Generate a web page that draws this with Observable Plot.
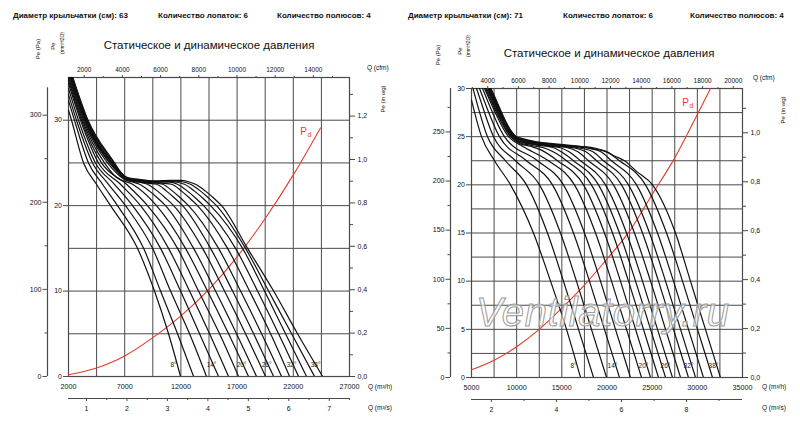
<!DOCTYPE html>
<html><head><meta charset="utf-8">
<script src="https://cdn.jsdelivr.net/npm/d3@7"></script>
<script src="https://cdn.jsdelivr.net/npm/@observablehq/plot@0.6"></script>
<style>
body{margin:0;background:#fff;}
#wrap{position:relative;width:800px;height:432px;overflow:hidden;font-family:"Liberation Sans",Arial,sans-serif;color:#111;background:#fff;}
.t{position:absolute;white-space:nowrap;line-height:1;}
</style></head><body><div id="wrap"></div>
<script>
// unit conversions
const CFM = 1.69901;   // m3/h per cfm
const PA = 9.80665;    // Pa per mmH2O
const INWG = 25.4;     // mmH2O per in wg

// blade angles (degrees)
const angles = [8,10,12,14,16,18,20,22,24,26,28,30,32,34,36,38];
const labelAngles = [8,14,20,26,32,38];

// Impeller 63 cm: [Q m3/h, Pe mmH2O] per blade angle
const curves63 = [
 [[2000,31.2],[2270,30],[3340,25],[4490,22.5],[5740,20],[8140,15],[9650,10],[10900,5],[11970,0]],
 [[2000,32.3],[2530,30],[3780,25],[5030,22.5],[6360,20],[8680,15],[10190,10],[11700,5],[13130,0]],
 [[2000,33.0],[2710,30],[4140,25],[5560,22.5],[7070,20],[9480,15],[11080,10],[12770,5],[14280,0]],
 [[2000,33.7],[2890,30],[4400,25],[6090,22.5],[7700,20],[10190,15],[11970,10],[13660,5],[15350,0]],
 [[2000,34.3],[3070,30],[4670,25],[6630,22.5],[8410,20],[10900,15],[12770,10],[14550,5],[16240,0]],
 [[2000,34.7],[3160,30],[4940,25],[7160,22.5],[9030,20],[11700,15],[13570,10],[15440,5],[17130,0]],
 [[2000,35.0],[3250,30],[5200,25],[6270,23.3],[7700,22.5],[9830,20],[12410,15],[14370,10],[16240,5],[18020,0]],
 [[2000,35.3],[3340,30],[5470,25],[6360,23.7],[7070,23.0],[7610,22.8],[8320,22.5],[9210,21.7],[9920,20.9],[10630,20],[13130,15],[15080,10],[16950,5],[18730,0]],
 [[2000,35.6],[3420,30],[5650,25],[6450,23.8],[7160,23.0],[8320,22.75],[9030,22.5],[9920,21.7],[10630,20.9],[11350,20],[13930,15],[15880,10],[17750,5],[19530,0]],
 [[2000,35.8],[3470,30],[5740,25],[6500,23.85],[7160,23.05],[8410,22.75],[9120,22.6],[9830,22.5],[10720,21.7],[11430,20.9],[12150,20],[14640,15],[16600,10],[18470,5],[20250,0]],
 [[2000,36.0],[3510,30],[5830,25],[6500,23.9],[7160,23.1],[8410,22.8],[9650,22.65],[10370,22.5],[11260,21.7],[11970,20.9],[12680,20],[15350,15],[17310,10],[19180,5],[20960,0]],
 [[2000,36.1],[3560,30],[5870,25],[6540,23.95],[7160,23.15],[8410,22.85],[9740,22.7],[10460,22.6],[11170,22.5],[12060,21.7],[12770,20.9],[13480,20],[16150,15],[18110,10],[19980,5],[21670,0]],
 [[2000,36.3],[3600,30],[5920,25],[6540,24.0],[7160,23.2],[8410,22.9],[9740,22.75],[10990,22.75],[11700,22.5],[12590,21.7],[13300,20.9],[14020,20],[16860,15],[18820,10],[20690,5],[22470,0]],
 [[2000,36.4],[3650,30],[6010,25],[6540,24.0],[7160,23.25],[8410,22.95],[9740,22.8],[10900,22.85],[11610,22.75],[12320,22.5],[13210,21.7],[13930,20.9],[14640,20],[17490,15],[19440,10],[21310,5],[23180,0]],
 [[2000,36.5],[3690,30],[6050,25],[6540,24.05],[7160,23.3],[8410,23.0],[9740,22.85],[11080,22.9],[12150,22.8],[12860,22.5],[13750,21.7],[14460,20.9],[15170,20],[17750,15],[19800,10],[21850,5],[23890,0]],
 [[2000,36.6],[3740,30],[6090,25],[6540,24.1],[7160,23.35],[8410,23.05],[9740,22.9],[11080,22.95],[11970,22.95],[12680,22.8],[13300,22.5],[14190,21.7],[14910,20.9],[15620,20],[17930,15],[20250,10],[22380,5],[24610,0]]
];
// dynamic pressure 63 cm [Q m3/h, Pd mmH2O]
const pd63 = [[2000,0.2],[4500,1.0],[7000,2.4],[9500,4.55],[12000,7.1],[14500,10.2],[17000,14.0],[19500,18.5],[22000,23.6],[24420,29.1]];

// Impeller 71 cm
const curves71 = [
 [[5000,28.8],[6110,25],[7550,22.5],[9320,20],[11860,15],[13750,10],[15520,5],[17070,0]],
 [[5000,30.6],[5170,30],[6770,25],[8760,22.5],[11090,20],[13410,15],[15180,10],[16850,5],[18510,0]],
 [[5000,31.4],[5550,30],[7440,25],[9870,22.5],[12530,20],[14850,15],[16620,10],[18280,5],[19950,0]],
 [[5000,32.2],[5890,30],[8100,25],[11090,22.5],[13970,20],[16290,15],[18060,10],[19720,5],[21380,0]],
 [[5000,32.8],[6220,30],[8650,25],[12310,22.5],[15180,20],[17510,15],[19280,10],[20940,5],[22600,0]],
 [[5000,33.1],[6440,30],[9100,25],[10650,24.0],[13520,22.5],[16400,20],[18730,15],[20500,10],[22160,5],[23820,0]],
 [[5000,33.3],[6550,30],[9320,25],[10310,24.3],[11530,24.0],[12750,23.6],[14520,22.5],[17400,20],[19720,15],[21490,10],[23160,5],[24820,0]],
 [[5000,33.5],[6660,30],[9430,25],[10310,24.4],[11530,24.1],[13300,23.75],[14300,23.3],[15520,22.5],[18280,20],[20610,15],[22380,10],[24040,5],[25700,0]],
 [[5000,33.7],[6770,30],[9540,25],[10420,24.45],[12090,24.15],[14080,23.85],[15070,23.35],[16290,22.5],[19060,20],[21380,15],[23160,10],[24820,5],[26480,0]],
 [[5000,33.85],[6830,30],[9650,25],[10420,24.5],[12090,24.2],[13750,24.0],[14850,23.85],[15850,23.4],[17070,22.5],[19830,20],[22160,15],[23930,10],[25590,5],[27250,0]],
 [[5000,34.0],[6880,30],[9710,25],[10540,24.55],[12090,24.25],[13750,24.05],[15410,23.9],[16730,23.45],[17950,22.5],[20720,20],[23040,15],[24820,10],[26480,5],[28140,0]],
 [[5000,34.1],[6940,30],[9760,25],[10540,24.6],[12090,24.3],[13750,24.1],[15410,23.95],[16510,23.8],[17620,23.45],[18840,22.5],[21610,20],[23930,15],[25700,10],[27360,5],[29020,0]],
 [[5000,34.2],[6990,30],[9820,25],[10590,24.65],[12090,24.35],[13750,24.15],[15410,24.0],[17070,23.8],[18400,23.45],[19610,22.5],[22380,20],[24710,15],[26480,10],[28140,5],[29800,0]],
 [[5000,34.3],[7050,30],[9870,25],[10650,24.7],[12090,24.4],[13750,24.2],[15410,24.05],[17070,23.9],[18170,23.75],[19280,23.45],[20500,22.5],[23270,20],[25590,15],[27360,10],[29020,5],[30680,0]],
 [[5000,34.4],[7100,30],[9930,25],[10650,24.75],[12090,24.45],[13750,24.25],[15410,24.1],[17070,23.95],[18730,23.7],[20060,23.35],[21380,22.5],[24260,20],[26590,15],[28360,10],[30020,5],[31680,0]],
 [[5000,34.5],[7160,30],[9980,25],[10650,24.8],[12090,24.5],[13750,24.3],[15410,24.15],[17070,24.0],[18730,23.8],[19830,23.5],[20830,23.0],[21940,22.5],[23270,21.4],[25040,20],[27580,15],[29240,10],[30900,5],[32560,0]]
];
const pd71 = [[5000,0.8],[7500,1.8],[10000,3.2],[12500,5.0],[15000,7.2],[17500,9.6],[20000,12.3],[22500,15.2],[25000,19.0],[27500,22.8],[30000,27.3],[31460,30]];

// tick labels
const qTicks63 = [2000,7000,12000,17000,22000,27000];
const cfmTicks63 = [2000,4000,6000,8000,10000,12000,14000];
const cfmMinor63 = [3000,5000,7000,9000,11000,13000,15000];
const m3sTicks63 = [1,2,3,4,5,6,7];
const m3sMinor63 = [1.5,2.5,3.5,4.5,5.5,6.5,7.5];
const paTicks63 = [0,100,200,300];
const paMinor63 = [50,150,250];
const mmTicks63 = [0,10,20,30];
const inwgTicks63 = [0,0.2,0.4,0.6,0.8,1.0,1.2];
const inwgMinor63 = [0.1,0.3,0.5,0.7,0.9,1.1,1.3];

const qTicks71 = [5000,10000,15000,20000,25000,30000,35000];
const cfmTicks71 = [4000,6000,8000,10000,12000,14000,16000,18000,20000];
const cfmMinor71 = [3000,5000,7000,9000,11000,13000,15000,17000,19000];
const m3sTicks71 = [2,4,6,8];
const m3sMinor71 = [3,5,7,9];
const paTicks71 = [0,50,100,150,200,250];
const paMinor71 = [25,75,125,175,225,275];
const mmTicks71 = [0,5,10,15,20,25,30];
const inwgTicks71 = [0,0.2,0.4,0.6,0.8,1.0];
const inwgMinor71 = [0.1,0.3,0.5,0.7,0.9,1.1];

const GRID = "#4a4a4a";
const RED = "#e43b2c";
const FONT = "'Liberation Sans', Arial, sans-serif";

function panel(c) {
  const data = c.curves.flatMap((pts, i) => pts.map(([q, p]) => ({angle: angles[i], q, p})));
  const ends = labelAngles.map(a => {
    const pts = c.curves[angles.indexOf(a)];
    return {angle: a, q: pts[pts.length - 1][0]};
  });
  const pdEnd = c.pd[c.pd.length - 1];
  const fmtWg = d => (d / INWG).toFixed(1).replace(".", ",");
  return Plot.plot({
    width: 400, height: 432,
    marginLeft: c.ml, marginRight: c.mr, marginTop: c.mt, marginBottom: c.mb,
    x: {domain: c.qDomain, axis: null},
    y: {domain: c.pDomain, axis: null},
    style: {fontFamily: FONT, fontSize: "7px", background: "transparent", overflow: "visible", color: "#111"},
    marks: [
      Plot.gridX(c.gridQ, {stroke: GRID, strokeOpacity: 1, strokeWidth: 1}),
      Plot.gridY(c.gridP, {stroke: GRID, strokeOpacity: 1, strokeWidth: 1}),
      Plot.frame({stroke: GRID, strokeWidth: 1.2}),
      Plot.line(c.pd, {x: d => d[0], y: d => d[1], stroke: RED, strokeWidth: 1.1, curve: "monotone-x", clip: true}),
      Plot.line(data, {x: "q", y: "p", z: "angle", stroke: "#111", strokeWidth: 1.2, curve: "monotone-x", clip: true}),
      Plot.text(ends, {x: "q", text: d => d.angle + "°", frameAnchor: "bottom", dx: -7, dy: -10, fontSize: 6.5, fill: "#222"}),
      Plot.text([pdEnd], {x: d => d[0], y: d => d[1], text: () => "P", dx: c.pdDx, dy: c.pdDy, fill: RED, fontSize: 10}),
      Plot.text([pdEnd], {x: d => d[0], y: d => d[1], text: () => "d", dx: c.pdDx + 6, dy: c.pdDy + 3, fill: RED, fontSize: 7}),
      // bottom Q m3/h
      Plot.axisX(c.qTicks, {anchor: "bottom", tickSize: 0, tickPadding: 7, tickFormat: d => String(d), fontSize: 7.2, label: null}),
      // top Q cfm
      Plot.axisX(c.cfmTicks.map(v => v * CFM), {anchor: "top", tickSize: 3, tickPadding: 2.5, tickFormat: d => String(Math.round(d / CFM)), fontSize: 6.5, label: null, stroke: GRID}),
      Plot.axisX(c.cfmMinor.map(v => v * CFM), {anchor: "top", tickSize: 2, tickFormat: () => "", label: null, stroke: GRID}),
      // Q m3/s
      Plot.ruleY([c.pDomain[0]], {x1: () => c.qDomain[0], x2: () => c.qDomain[1], dy: 22, stroke: GRID, strokeWidth: 1.2}),
      Plot.axisX(c.m3sTicks.map(v => v * 3600), {anchor: "bottom", dy: 22, tickSize: 3, tickPadding: 5, tickFormat: d => String(Math.round(d / 3600)), fontSize: 7, label: null, stroke: GRID}),
      Plot.axisX(c.m3sMinor.map(v => v * 3600), {anchor: "bottom", dy: 22, tickSize: 2, tickFormat: () => "", label: null, stroke: GRID}),
      // Pe Pa
      Plot.ruleX([0], {x: () => c.qDomain[0], y1: () => 0, y2: () => c.paTop, dx: -21, stroke: GRID, strokeWidth: 1.2}),
      Plot.axisY(c.paTicks.map(v => v / PA), {anchor: "left", dx: -21, tickSize: 4.5, tickPadding: 1.5, tickFormat: d => String(Math.round(d * PA)), fontSize: 7, label: null, stroke: GRID}),
      Plot.axisY(c.paMinor.map(v => v / PA), {anchor: "left", dx: -21, tickSize: 2.5, tickFormat: () => "", label: null, stroke: GRID}),
      // Pe mmH2O
      Plot.axisY(c.mmTicks, {anchor: "left", tickSize: 5, tickPadding: 1.5, tickFormat: d => String(d), fontSize: 7, label: null, stroke: GRID}),
      // Pe in wg
      Plot.axisY(c.inwgTicks.map(v => v * INWG), {anchor: "right", tickSize: 5, tickPadding: 3, tickFormat: fmtWg, fontSize: 7, label: null, stroke: GRID}),
      Plot.axisY(c.inwgMinor.map(v => v * INWG), {anchor: "right", tickSize: 3, tickFormat: () => "", label: null, stroke: GRID})
    ]
  });
}

const wrap = document.getElementById("wrap");

const p63 = panel({
  curves: curves63, pd: pd63,
  qDomain: [2000, 27000], pDomain: [0, 35], paTop: 33.8,
  gridQ: d3.range(2000, 27001, 2500), gridP: d3.range(0, 35.1, 5),
  qTicks: qTicks63, cfmTicks: cfmTicks63, cfmMinor: cfmMinor63,
  m3sTicks: m3sTicks63, m3sMinor: m3sMinor63,
  paTicks: paTicks63, paMinor: paMinor63, mmTicks: mmTicks63,
  inwgTicks: inwgTicks63, inwgMinor: inwgMinor63,
  ml: 68, mr: 51, mt: 77, mb: 56, pdDx: -17, pdDy: 4
});
const p71 = panel({
  curves: curves71, pd: pd71,
  qDomain: [5000, 35000], pDomain: [0, 30], paTop: 30,
  gridQ: d3.range(5000, 35001, 2500), gridP: d3.range(0, 30.1, 2.5),
  qTicks: qTicks71, cfmTicks: cfmTicks71, cfmMinor: cfmMinor71,
  m3sTicks: m3sTicks71, m3sMinor: m3sMinor71,
  paTicks: paTicks71, paMinor: paMinor71, mmTicks: mmTicks71,
  inwgTicks: inwgTicks71, inwgMinor: inwgMinor71,
  ml: 71, mr: 58, mt: 88, mb: 55, pdDx: -25, pdDy: 14
});
[[p63, 0], [p71, 400]].forEach(([el, left]) => {
  el.style.position = "absolute";
  el.style.left = left + "px";
  el.style.top = "0px";
  el.style.maxWidth = "none";
  wrap.appendChild(el);
});

// text annotations
const texts = [
  {t: "Диаметр крыльчатки (см): 63", x: 13, y: 16, s: 8, b: true},
  {t: "Количество лопаток: 6", x: 158, y: 16, s: 8, b: true},
  {t: "Количество полюсов: 4", x: 277, y: 16, s: 8, b: true},
  {t: "Диаметр крыльчатки (см): 71", x: 408, y: 16, s: 8, b: true},
  {t: "Количество лопаток: 6", x: 563, y: 16, s: 8, b: true},
  {t: "Количество полюсов: 4", x: 690, y: 16, s: 8, b: true},
  {t: "Статическое и динамическое давления", x: 209, y: 46, s: 11.5, c: true},
  {t: "Статическое и динамическое давления", x: 609, y: 54, s: 11.5, c: true},
  {t: "Pe (Pa)", x: 38, y: 49, s: 6, c: true, r: true},
  {t: "Pe", x: 53, y: 46, s: 6, c: true, r: true},
  {t: "(mmH2O)", x: 62, y: 43, s: 5, c: true, r: true},
  {t: "Pe (in wg)", x: 383, y: 99, s: 6, c: true, r: true},
  {t: "Q (cfm)", x: 367, y: 68, s: 6.5},
  {t: "Q (m³/h)", x: 368, y: 387, s: 6.5},
  {t: "Q (m³/s)", x: 368, y: 408, s: 6.5},
  {t: "Pe (Pa)", x: 438, y: 55, s: 6, c: true, r: true},
  {t: "Pe", x: 460, y: 51, s: 6, c: true, r: true},
  {t: "(mmH2O)", x: 468, y: 46, s: 5, c: true, r: true},
  {t: "Pe (in wg)", x: 783, y: 110, s: 6, c: true, r: true},
  {t: "Q (cfm)", x: 753, y: 78, s: 6.5},
  {t: "Q (m³/h)", x: 762, y: 387, s: 6.5},
  {t: "Q (m³/s)", x: 762, y: 408, s: 6.5}
];
texts.forEach(o => {
  const d = document.createElement("div");
  d.className = "t";
  d.textContent = o.t;
  d.style.left = o.x + "px";
  d.style.top = o.y + "px";
  d.style.fontSize = o.s + "px";
  if (o.b) d.style.fontWeight = "bold";
  const tx = o.c ? "-50%" : "0";
  d.style.transform = `translate(${tx},-50%)` + (o.r ? " rotate(-90deg)" : "");
  wrap.appendChild(d);
});

// watermark
const wm = document.createElement("div");
wm.className = "t";
wm.textContent = "Ventilatorry.ru";
Object.assign(wm.style, {
  left: "476px", top: "292px", fontSize: "40px", fontStyle: "italic", letterSpacing: "0.6px",
  color: "rgba(255,255,255,0.6)", webkitTextStroke: "1px #9a9a9a"
});
wrap.appendChild(wm);
</script></body></html>
